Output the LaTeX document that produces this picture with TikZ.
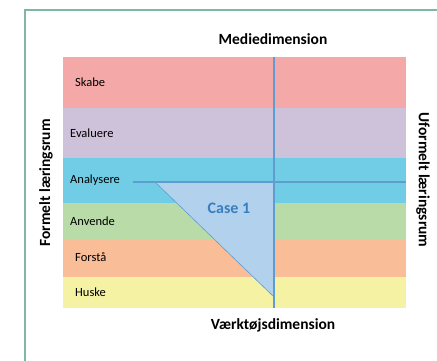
\documentclass[tikz,border=0pt]{standalone}
\usepackage{fontspec}
\setmainfont{Carlito}
\definecolor{cSkabe}{HTML}{F4A9A8}
\definecolor{cEval}{HTML}{CEC1DA}
\definecolor{cAnal}{HTML}{71CCE5}
\definecolor{cAnv}{HTML}{B9DBA7}
\definecolor{cForst}{HTML}{F9BD98}
\definecolor{cHuske}{HTML}{F5F2A3}
\definecolor{cLine}{HTML}{5F9CD0}
\definecolor{cTri}{HTML}{B2D1EC}
\definecolor{cCase}{HTML}{3A7EC2}
\definecolor{cFrame}{HTML}{7FB8A2}
\begin{document}
\begin{tikzpicture}[x=1pt,y=-1pt,
  bandlabel/.style={anchor=west,font=\fontsize{12.5}{14}\selectfont,inner sep=0pt,text=black},
  axislabel/.style={font=\bfseries\fontsize{15.5}{18}\selectfont,inner sep=0pt,text=black},
  guide/.style={draw=cLine,line width=1.1pt}]
\useasboundingbox (0,0) rectangle (437,361);
\fill[white] (0,0) rectangle (437,361);
% frame
\draw[cFrame,line width=1.6pt] (25,361) -- (25,10) -- (437,10);
% bands
\fill[cSkabe] (63,57) rectangle (406,108);
\fill[cEval] (63,108) rectangle (406,158);
\fill[cAnal] (63,158) rectangle (406,203);
\fill[cAnv] (63,203) rectangle (406,240);
\fill[cForst] (63,240) rectangle (406,277);
\fill[cHuske] (63,277) rectangle (406,308);
% band labels
\node[bandlabel] (skabe) at (75,82) {Skabe};
\node[bandlabel] (evaluere) at (70,133) {Evaluere};
\node[bandlabel] (analysere) at (70,180) {Analysere};
\node[bandlabel] (anvende) at (70,221) {Anvende};
\node[bandlabel] (forsta) at (75,257) {Forstå};
\node[bandlabel] (huske) at (75,292) {Huske};
% coordinates
\coordinate (vtop) at (274,57);
\coordinate (vbot) at (274,308);
\coordinate (hleft) at (133,182);
\coordinate (hright) at (406,182);
\coordinate (t1) at (155,182);
\coordinate (t2) at (274,182);
\coordinate (t3) at (274,297);
% triangle
\fill[cTri] (t1) -- (t2) -- (t3) -- cycle;
\draw[cLine,line width=0.6pt] (t1) -- (t3);
% guide lines
\draw[guide] (hleft) -- (hright);
\draw[guide] (vtop) -- (vbot);
\node[font=\bfseries\fontsize{16}{18}\selectfont,text=cCase,inner sep=0pt] (case) at (229,208) {Case 1};
% axis labels
\node[axislabel] (medie) at (273,39) {Mediedimension};
\node[axislabel] (vaerktoj) at (273,325) {Værktøjsdimension};
\node[axislabel,rotate=90] (formelt) at (46,183) {Formelt læringsrum};
\node[axislabel,rotate=-90] (uformelt) at (423,180) {Uformelt læringsrum};
\end{tikzpicture}
\end{document}
